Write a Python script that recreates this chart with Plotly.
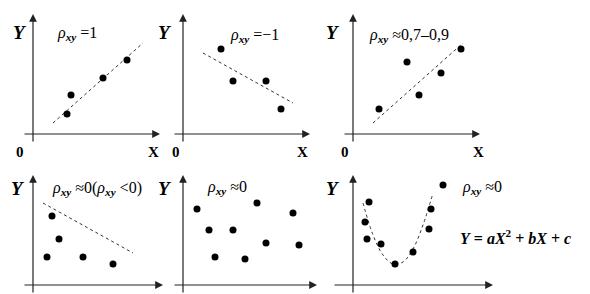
import plotly.graph_objects as go

W, H = 590, 294
UNIT = 10  # pixels per data unit in every panel

# ---------------- data (panel units) ----------------
p1_x = [3.4, 3.8, 7.0, 9.4]
p1_y = [2.0, 3.9, 5.6, 7.4]
p1_fit_x = [2.0, 11.0]
p1_fit_y = [1.1, 9.1]

p2_x = [3.8, 5.0, 8.3, 9.8]
p2_y = [8.5, 5.3, 5.3, 2.5]
p2_fit_x = [2.0, 11.0]
p2_fit_y = [8.1, 3.1]

p3_x = [2.6, 5.4, 6.6, 8.8, 10.8]
p3_y = [2.5, 7.2, 3.9, 6.1, 8.5]
p3_fit_x = [2.0, 11.0]
p3_fit_y = [1.1, 9.1]

p4_x = [1.4, 1.9, 2.6, 5.0, 8.0]
p4_y = [2.8, 6.9, 4.6, 2.8, 2.1]
p4_fit_x = [1.0, 10.0]
p4_fit_y = [8.2, 3.2]

p5_x = [1.4, 2.6, 3.2, 5.0, 6.2, 7.4, 8.3, 11.0, 11.6]
p5_y = [7.6, 5.5, 2.8, 5.5, 2.6, 8.2, 4.2, 7.2, 4.0]

p6_x = [1.6, 1.2, 1.4, 2.8, 4.2, 6.0, 7.6, 7.8, 9.0]
p6_y = [8.3, 6.3, 4.6, 4.1, 2.1, 3.3, 5.6, 7.6, 10.0]
p6_fit_x = [1.0, 2.0, 3.0, 4.0, 5.0, 6.0, 7.0, 8.0]
p6_fit_y = [8.2, 5.0, 3.0, 2.1, 2.3, 3.6, 6.0, 9.2]

labels = ["<i>ρ</i><sub><b><i>xy</i></b></sub> =1",
          "<i>ρ</i><sub><b><i>xy</i></b></sub> =−1",
          "<i>ρ</i><sub><b><i>xy</i></b></sub> ≈0,7–0,9",
          "<i>ρ</i><sub><b><i>xy</i></b></sub> ≈0(<i>ρ</i><sub><b><i>xy</i></b></sub> <0)",
          "<i>ρ</i><sub><b><i>xy</i></b></sub> ≈0",
          "<i>ρ</i><sub><b><i>xy</i></b></sub> ≈0"]
formula = "<b><i>Y</i> = <i>aX</i><sup>2</sup> + <i>bX</i> + <i>c</i></b>"

# ---------------- layout of panels (pixels) ----------------
# box (left, top, right, bottom), origin (ox, oy), x-axis extent, y-axis extent
panels = [
    dict(box=(0, 0, 165, 165), org=(33, 134), xa=(-1.0, 12.7), ya=(-0.9, 12.0)),
    dict(box=(165, 0, 330, 165), org=(183, 134), xa=(-1.0, 12.7), ya=(-0.9, 12.0)),
    dict(box=(330, 0, 500, 165), org=(353, 134), xa=(-1.0, 12.7), ya=(-0.9, 12.0)),
    dict(box=(0, 168, 165, 294), org=(33, 285), xa=(-1.0, 13.0), ya=(-0.9, 11.0)),
    dict(box=(165, 168, 330, 294), org=(183, 285), xa=(-1.0, 13.4), ya=(-0.9, 11.0)),
    dict(box=(330, 168, 590, 294), org=(353, 285), xa=(-2.0, 14.0), ya=(-0.9, 11.0)),
]

fig = go.Figure()
AX = "#222222"
SERIF = "Liberation Serif"

for i, p in enumerate(panels, start=1):
    l, t, r, b = p["box"]
    ox, oy = p["org"]
    sfx = "" if i == 1 else str(i)
    fig.layout["xaxis" + sfx] = dict(
        domain=[l / W, r / W], range=[(l - ox) / UNIT, (r - ox) / UNIT],
        visible=False, anchor="y" + sfx, fixedrange=True)
    fig.layout["yaxis" + sfx] = dict(
        domain=[1 - b / H, 1 - t / H], range=[(oy - b) / UNIT, (oy - t) / UNIT],
        visible=False, anchor="x" + sfx, fixedrange=True)
    xr, yr = "x" + sfx, "y" + sfx
    # x axis arrow
    fig.add_annotation(x=p["xa"][1], y=0, ax=p["xa"][0], ay=0, xref=xr, yref=yr,
                       axref=xr, ayref=yr, text="", showarrow=True, arrowhead=2,
                       arrowsize=1.3, arrowwidth=1.2, arrowcolor=AX, standoff=0)
    # y axis arrow
    fig.add_annotation(x=0, y=p["ya"][1], ax=0, ay=p["ya"][0], xref=xr, yref=yr,
                       axref=xr, ayref=yr, text="", showarrow=True, arrowhead=2,
                       arrowsize=1.3, arrowwidth=1.2, arrowcolor=AX, standoff=0)

series = [
    (1, p1_x, p1_y, p1_fit_x, p1_fit_y),
    (2, p2_x, p2_y, p2_fit_x, p2_fit_y),
    (3, p3_x, p3_y, p3_fit_x, p3_fit_y),
    (4, p4_x, p4_y, p4_fit_x, p4_fit_y),
    (5, p5_x, p5_y, None, None),
    (6, p6_x, p6_y, p6_fit_x, p6_fit_y),
]
for i, xs, ys, fx, fy in series:
    sfx = "" if i == 1 else str(i)
    if fx is not None:
        fig.add_trace(go.Scatter(
            x=fx, y=fy, mode="lines", xaxis="x" + sfx, yaxis="y" + sfx,
            line=dict(color="#333333", width=1, dash="3px,3px",
                      shape="spline" if len(fx) > 2 else "linear"),
            hoverinfo="skip", showlegend=False, cliponaxis=False))
    fig.add_trace(go.Scatter(
        x=xs, y=ys, mode="markers", xaxis="x" + sfx, yaxis="y" + sfx,
        marker=dict(color="black", size=7), showlegend=False, cliponaxis=False))


def txt(px, py, s, size, anchor="center"):
    fig.add_annotation(x=px / W, y=1 - py / H, xref="paper", yref="paper",
                       text=s, showarrow=False, xanchor=anchor, yanchor="middle",
                       font=dict(family=SERIF, size=size, color="black"))


# Y labels
for px, py in [(20, 32), (165, 32), (333, 32), (18, 188), (165, 188), (333, 188)]:
    txt(px, py, "<b><i>Y</i></b>", 19)
# 0 and X labels
for px in [20, 176, 345]:
    txt(px, 152, "<b>0</b>", 15)
for px in [153, 302, 478]:
    txt(px, 152, "<b>X</b>", 15)
# rho labels
rho_pos = [(55, 33), (228, 35), (367, 35), (50, 188), (205, 187), (460, 187)]
for (px, py), s in zip(rho_pos, labels):
    txt(px, py, s, 16, anchor="left")
txt(458, 237, formula, 16, anchor="left")

fig.update_layout(width=W, height=H, margin=dict(l=0, r=0, t=0, b=0),
                  paper_bgcolor="white", plot_bgcolor="white", showlegend=False)
fig.write_html("out.html")
